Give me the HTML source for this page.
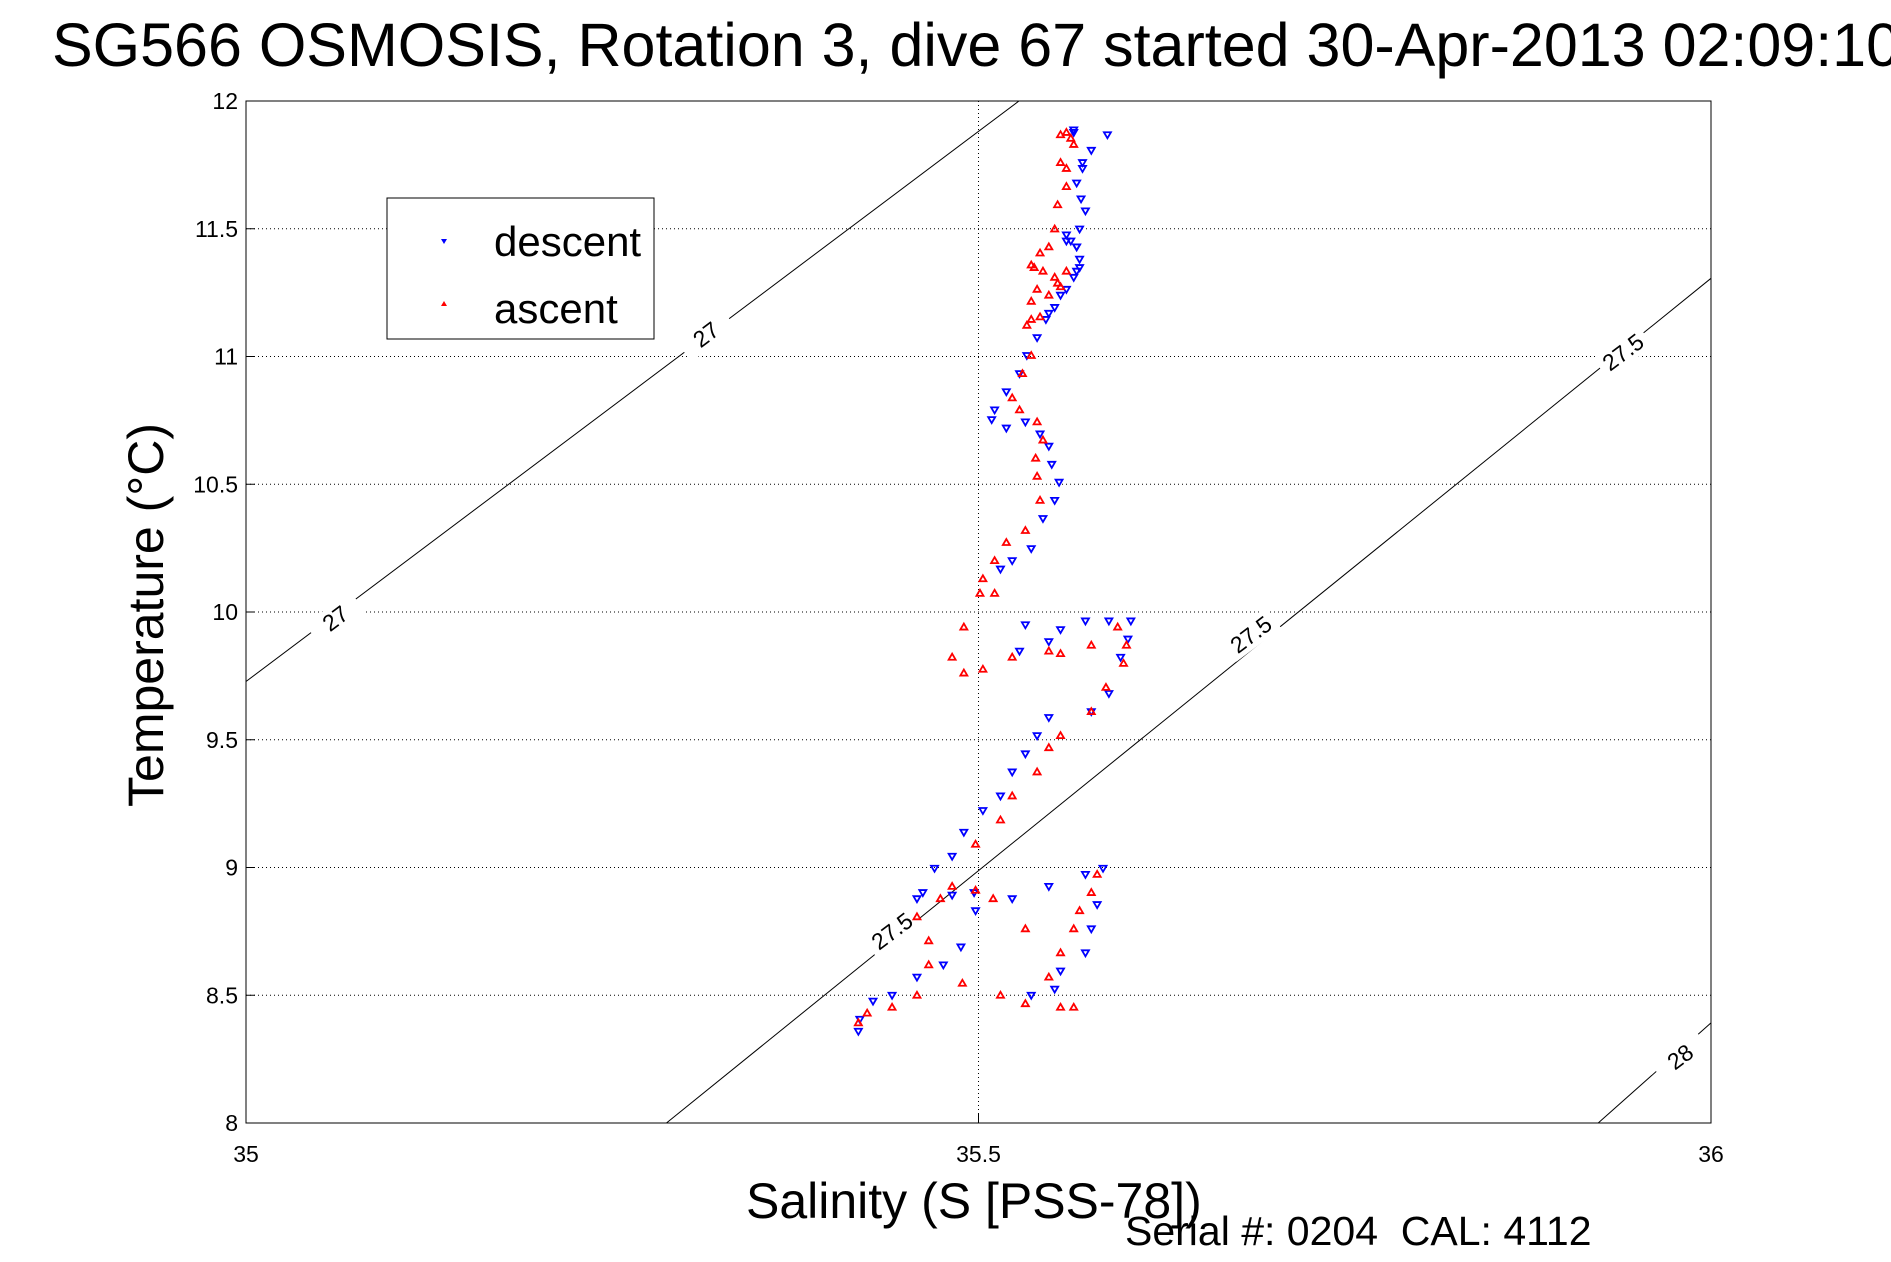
<!DOCTYPE html>
<html><head><meta charset="utf-8"><style>
html,body{margin:0;padding:0;background:#fff;}
svg{display:block;font-family:"Liberation Sans",sans-serif;}
</style></head><body>
<svg id="chart" width="1891" height="1262" viewBox="0 0 1891 1262" xmlns="http://www.w3.org/2000/svg">
<text x="52" y="66" font-size="61" fill="#000">SG566 OSMOSIS, Rotation 3, dive 67 started 30-Apr-2013 02:09:10</text>
<g id="grid"></g>
<g id="iso"></g>
<g id="marks"></g>
<rect x="246" y="101" width="1465" height="1022" fill="none" stroke="#000" stroke-width="1"/>
<g id="ticks"></g>
<text x="0" y="0" font-size="50" transform="translate(163,615) rotate(-90)" text-anchor="middle">Temperature (°C)</text>
<text x="746" y="1218" font-size="50">Salinity (S [PSS-78])</text>
<text x="1125" y="1245" font-size="41" style="white-space:pre">Serial #: 0204  CAL: 4112</text>
<g>
<rect x="387" y="198" width="267" height="141" fill="#fff" stroke="#000" stroke-width="1"/>
<path d="M441,239 l6,0 l-3,5 z" fill="#00f"/>
<text x="494" y="256" font-size="42">descent</text>
<path d="M441,306 l6,0 l-3,-5 z" fill="#f00"/>
<text x="494" y="323" font-size="42">ascent</text>
</g>
</svg>
<script>
const xTicks=[35,35.5,36];
const xTickLabels=["35","35.5","36"];
const yTicks=[8,8.5,9,9.5,10,10.5,11,11.5,12];
const yTickLabels=["8","8.5","9","9.5","10","10.5","11","11.5","12"];
const descS=[35.565,35.588,35.577,35.571,35.567,35.570,35.573,35.569,35.567,35.560,35.569,35.567,35.560,35.552,35.546,35.540,35.533,35.528,35.519,35.511,35.509,35.519,35.532,35.542,35.548,35.550,35.555,35.552,35.544,35.536,35.523,35.515,35.532,35.556,35.548,35.528,35.573,35.589,35.604,35.602,35.597,35.589,35.577,35.548,35.540,35.532,35.523,35.515,35.503,35.490,35.482,35.470,35.462,35.458,35.482,35.497,35.498,35.488,35.476,35.458,35.441,35.428,35.419,35.418,35.536,35.552,35.556,35.573,35.577,35.581,35.585,35.573,35.548,35.523,35.560,35.563,35.567,35.569,35.565,35.556,35.548,35.571,35.565];
const descT=[11.887,11.868,11.807,11.736,11.679,11.617,11.570,11.499,11.429,11.452,11.381,11.334,11.263,11.192,11.145,11.074,11.004,10.933,10.862,10.791,10.753,10.720,10.744,10.697,10.649,10.578,10.508,10.437,10.366,10.248,10.201,10.168,9.950,9.931,9.884,9.847,9.965,9.965,9.965,9.894,9.823,9.681,9.610,9.587,9.516,9.445,9.374,9.280,9.223,9.138,9.044,8.997,8.902,8.878,8.892,8.902,8.831,8.689,8.619,8.571,8.500,8.477,8.406,8.359,8.500,8.524,8.595,8.666,8.760,8.855,8.997,8.973,8.926,8.878,11.476,11.452,11.429,11.348,11.310,11.240,11.169,11.759,11.877];
const ascS=[35.560,35.565,35.556,35.560,35.554,35.552,35.548,35.542,35.538,35.540,35.548,35.554,35.560,35.536,35.533,35.536,35.530,35.523,35.528,35.540,35.544,35.539,35.540,35.542,35.532,35.519,35.511,35.503,35.501,35.511,35.490,35.482,35.490,35.503,35.523,35.548,35.556,35.577,35.595,35.601,35.599,35.587,35.577,35.556,35.548,35.540,35.523,35.515,35.498,35.482,35.474,35.458,35.466,35.466,35.458,35.441,35.424,35.418,35.498,35.510,35.489,35.515,35.532,35.548,35.556,35.565,35.569,35.577,35.581,35.556,35.565,35.532,35.536,35.544,35.552,35.556,35.536,35.542,35.560,35.563,35.556];
const ascT=[11.877,11.830,11.759,11.665,11.594,11.499,11.429,11.405,11.348,11.263,11.240,11.287,11.334,11.216,11.122,11.004,10.933,10.838,10.791,10.744,10.673,10.602,10.531,10.437,10.319,10.272,10.201,10.130,10.073,10.073,9.941,9.823,9.761,9.776,9.823,9.847,9.837,9.870,9.941,9.870,9.799,9.705,9.610,9.516,9.469,9.374,9.280,9.186,9.091,8.926,8.878,8.807,8.713,8.619,8.500,8.453,8.430,8.392,8.911,8.878,8.547,8.500,8.467,8.571,8.666,8.760,8.831,8.902,8.973,8.453,8.453,8.760,11.358,11.334,11.310,11.273,11.145,11.155,11.736,11.854,11.868];
const isoLabels=["27","27.5","28"];
const isoS0=[35,35.287,35.923];
const isoT0=[9.728,8,8];
const isoS1=[35.5276,36,36];
const isoT1=[12,11.306,8.392];
const isoLabelS=[[35.314,35.061],[35.940,35.686,35.441],[35.979]];
const isoLabelT=[[11.086,9.975],[11.017,9.912,8.751],[8.259]];

const X0=246,X1=1711,Y0=1123,Y1=101;
const xs=s=>X0+(s-35)/(36-35)*(X1-X0);
const ys=t=>Y0-(t-8)/(12-8)*(Y0-Y1);
const NS="http://www.w3.org/2000/svg";
function mk(tag,attrs,parent){const e=document.createElementNS(NS,tag);for(const k in attrs)e.setAttribute(k,attrs[k]);parent.appendChild(e);return e;}
const grid=document.getElementById('grid'),ticks=document.getElementById('ticks'),iso=document.getElementById('iso'),marks=document.getElementById('marks');
xTicks.forEach((v,i)=>{
  const x=xs(v);
  if(i>0&&i<xTicks.length-1){const g=mk('line',{x1:x,x2:x,y1:Y1,y2:Y0,stroke:'#000','stroke-width':1,'stroke-dasharray':'1,3'},grid);
  
  }
  const t1=mk('line',{x1:x,x2:x,y1:Y0,y2:Y0-9,stroke:'#000'},ticks);
  
  
  const l=mk('text',{x:x,y:1162,'font-size':23,'text-anchor':'middle'},ticks);l.textContent=xTickLabels[i];
  
  
});
yTicks.forEach((v,i)=>{
  const y=ys(v);
  if(i>0&&i<yTicks.length-1){const g=mk('line',{x1:X0,x2:X1,y1:y,y2:y,stroke:'#000','stroke-width':1,'stroke-dasharray':'1,3'},grid);
  
  }
  const t1=mk('line',{x1:X0,x2:X0+9,y1:y,y2:y,stroke:'#000'},ticks);
  
  
  const l=mk('text',{x:238,y:y+8,'font-size':23,'text-anchor':'end'},ticks);l.textContent=yTickLabels[i];
  
  
});
isoLabels.forEach((lab,i)=>{
  const ln=mk('line',{x1:xs(isoS0[i]),y1:ys(isoT0[i]),x2:xs(isoS1[i]),y2:ys(isoT1[i]),stroke:'#000','stroke-width':1},iso);
  
  
  isoLabelS[i].forEach((s,j)=>{
    const x=xs(s),y=ys(isoLabelT[i][j]);
    mk('rect',{x:x-28,y:y-13,width:56,height:26,fill:'#fff',transform:`rotate(-37 ${x} ${y})`},iso);
    const t=mk('text',{x:x,y:y+8,'font-size':23,'text-anchor':'middle',transform:`rotate(-37 ${x} ${y})`},iso);
    t.textContent=lab;
    
    
  });
});
descS.forEach((s,i)=>{
  const x=xs(s),y=ys(descT[i]);
  const p=mk('path',{d:`M${x-3.5},${y-2.5} l7,0 l-3.5,6 z`,fill:'none',stroke:'#00f','stroke-width':1.8},marks);
  
  
});
ascS.forEach((s,i)=>{
  const x=xs(s),y=ys(ascT[i]);
  const p=mk('path',{d:`M${x-3.5},${y+2.5} l7,0 l-3.5,-6 z`,fill:'none',stroke:'#f00','stroke-width':1.8},marks);
  
  
});
</script>
</body></html>
